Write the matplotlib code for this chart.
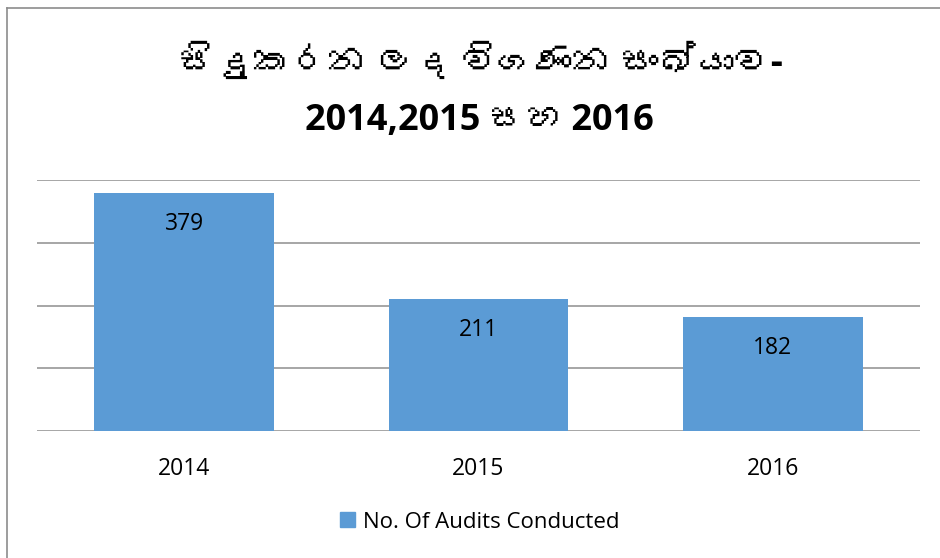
import matplotlib
matplotlib.use('Agg')
import matplotlib.pyplot as plt
from matplotlib import font_manager
from matplotlib.ft2font import FT2Font
from matplotlib.lines import Line2D
from matplotlib.patches import Patch

# data
years = ['2014', '2015', '2016']
audits = [379, 211, 182]
series_name = 'No. Of Audits Conducted'
title_line1 = 'සිදුකරන ලද විගණන සංඛ්‍යාව-'
title_line2 = '2014,2015 සහ 2016'
y_ticks = [0, 100, 200, 300, 400]


# look for any installed font that has Sinhala glyphs, to use as a fallback
def find_sinhala_font():
    for f in font_manager.fontManager.ttflist:
        try:
            if 0x0DC3 in FT2Font(f.fname).get_charmap():
                return f.name
        except Exception:
            pass
    return None


sinhala = find_sinhala_font()
families = ['Open Sans'] + ([sinhala] if sinhala else []) + ['DejaVu Sans']
plt.rcParams['font.family'] = families

bar_color = '#5B9BD5'
grid_color = '#a6a6a6'

fig = plt.figure(figsize=(9.4, 5.58), dpi=100)
ax = fig.add_axes([37 / 940, 1 - 431 / 558, 883 / 940, 251 / 558])

x = list(range(len(years)))
ax.bar(x, audits, width=0.61, color=bar_color, zorder=2)
for i, v in zip(x, audits):
    ax.annotate(str(v), xy=(i, v), xytext=(0, -22.5), textcoords='offset points',
                ha='center', va='center', fontsize=16.5, color='#000000')

ax.set_xlim(-0.5, len(years) - 0.5)
ax.set_ylim(0, 400)
ax.set_yticks(y_ticks)
ax.set_yticklabels([])
ax.set_xticks(x)
ax.set_xticklabels(years, fontsize=16.5)
ax.tick_params(axis='both', length=0)
ax.tick_params(axis='x', pad=18.5)
ax.yaxis.grid(True, color=grid_color, lw=1.4, zorder=0)
ax.set_axisbelow(True)
for s in ax.spines.values():
    s.set_visible(False)

# title, two lines
# matplotlib does no complex shaping, so the zero width joiner would show as a box
zwj = '\u200d'
fig.text(0.512, 1 - 64 / 558, title_line1.replace(zwj, ''), ha='center', va='center',
         fontsize=27, fontweight='bold')
fig.text(0.51, 1 - 121 / 558, title_line2, ha='center', va='center',
         fontsize=26, fontweight='bold')

# legend below
fig.legend(handles=[Patch(color=bar_color, label=series_name)],
           loc='center', bbox_to_anchor=(0.51, 1 - 522 / 558),
           frameon=False, fontsize=16, handlelength=0.68, handleheight=0.68,
           handletextpad=0.35)

# chart border (left and top edges visible in the crop)
fig.add_artist(Line2D([7 / 940, 7 / 940], [0, 1 - 8 / 558], color='#8c8c8c', lw=1.2))
fig.add_artist(Line2D([7 / 940, 1], [1 - 8 / 558, 1 - 8 / 558], color='#8c8c8c', lw=1.2))

fig.savefig('out.png', dpi=100)
